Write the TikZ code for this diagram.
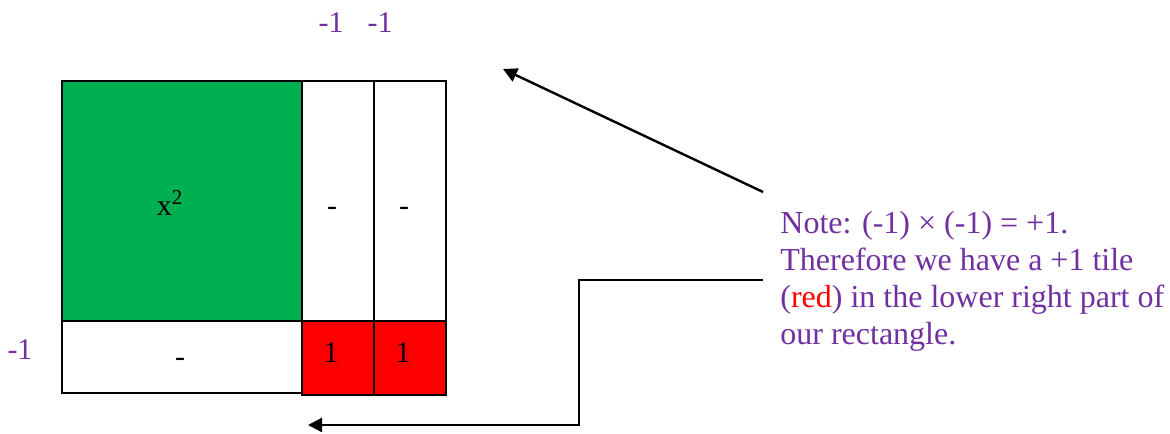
\documentclass[tikz,border=0pt]{standalone}
\usepackage{fontspec}
\setmainfont{Liberation Serif}
\usetikzlibrary{arrows.meta}
\definecolor{tilegreen}{HTML}{00B050}
\definecolor{tilered}{HTML}{FF0000}
\definecolor{notepurple}{HTML}{7030A0}
\tikzset{
  tile/.style={draw, line width=1pt, inner sep=0pt, anchor=north west},
  lbl/.style={font=\fontsize{15}{18}\selectfont, anchor=base, inner sep=0pt},
  side/.style={lbl, text=notepurple},
  pointer/.style={line width=1.2pt, -{Triangle[length=7pt,width=7pt]}}
}

\begin{document}
\begin{tikzpicture}[x=0.5pt,y=-0.5pt]
  \useasboundingbox (0,0) rectangle (1170,433);
  % Tiles
  \node[tile, fill=tilegreen, minimum width=120pt, minimum height=120pt] (sq) at (61,80) {};
  \node[tile, fill=white, minimum width=36pt, minimum height=120pt] (colA) at (301,80) {};
  \node[tile, fill=white, minimum width=36pt, minimum height=120pt] (colB) at (373,80) {};
  \node[tile, fill=white, minimum width=120pt, minimum height=36pt] (row) at (61,320) {};
  \node[tile, fill=tilered, minimum width=36pt, minimum height=37pt] (oneA) at (301,320) {};
  \node[tile, fill=tilered, minimum width=36pt, minimum height=37pt] (oneB) at (373,320) {};
  % Labels
  \node[lbl] (sqlbl) at (170,215) {x\textsuperscript{2}};
  \node[lbl] (colAlbl) at (332,215) {-};
  \node[lbl] (colBlbl) at (404,215) {-};
  \node[lbl] (rowlbl) at (180,366) {-};
  \node[lbl] (oneAlbl) at (331,362) {1};
  \node[lbl] (oneBlbl) at (403,362) {1};
  \node[side] (topA) at (331,33) {-1};
  \node[side] (topB) at (380,33) {-1};
  \node[side] (left) at (20,359) {-1};
  % Note
  \node[anchor=base west, align=left, inner sep=0pt, text=notepurple,
        font=\fontsize{16}{18.5}\selectfont] (note) at (780,344)
    {Note: (-1) × (-1) = +1.\\Therefore we have a +1 tile\\(\textcolor{tilered}{red}) in the lower right part of\\our rectangle.};
  % Arrows
  \coordinate (noteUp) at (763,192);
  \coordinate (topGap) at (503,69);
  \coordinate (noteLow) at (763,280);
  \coordinate (bend) at (579,280);
  \coordinate (lowGap) at (308,425);
  \draw[pointer] (noteUp) -- (topGap);
  \draw[pointer] (noteLow) -- (bend) |- (lowGap);
\end{tikzpicture}
\end{document}
